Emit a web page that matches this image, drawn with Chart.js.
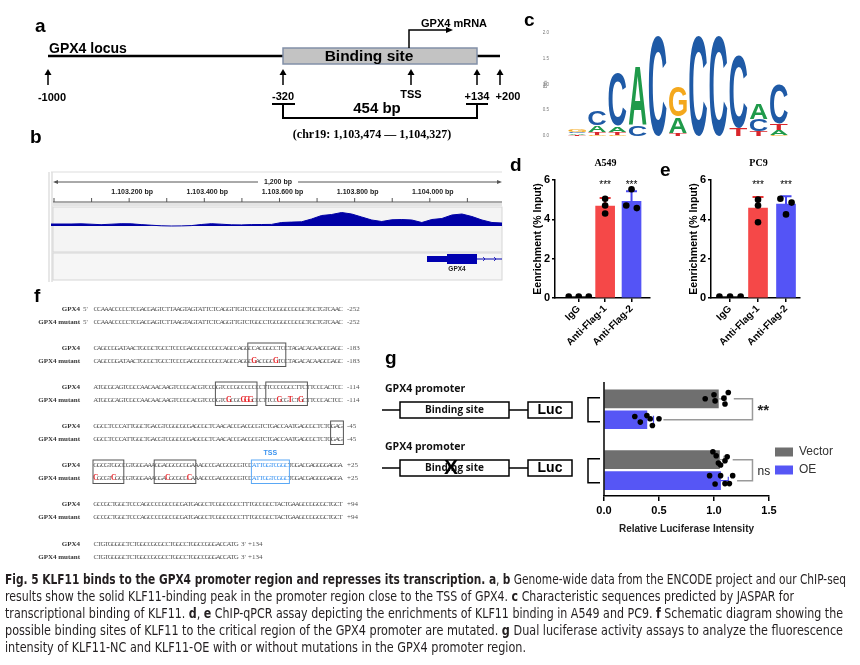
<!DOCTYPE html>
<html>
<head>
<meta charset="utf-8">
<title>Fig. 5 KLF11 binds to the GPX4 promoter</title>
<script src="https://cdn.jsdelivr.net/npm/chart.js@4.4.1/dist/chart.umd.min.js"></script>
<style>
  body { margin: 0; background: #fff; }
  #page { position: relative; width: 860px; height: 665px; overflow: hidden; background: #fff; }
  canvas { position: absolute; }
  #caption { position: absolute; left: 5px; top: 571px; font-family: "Liberation Sans Narrow", "DejaVu Sans Condensed", sans-serif; font-size: 14px; line-height: 17px; color: #231f20; }
  #caption div { white-space: nowrap; width: max-content; transform-origin: 0 0; }
</style>
</head>
<body>
<div id="page">
  <canvas id="bg" width="860" height="665" style="left:0;top:0"></canvas>
  <canvas id="logo" width="260" height="130" style="left:540px;top:20px"></canvas>
  <canvas id="cov" width="451" height="45" style="left:51px;top:207px"></canvas>
  <canvas id="chipA" width="135" height="200" style="left:525px;top:150px"></canvas>
  <canvas id="chipB" width="129" height="200" style="left:681px;top:150px"></canvas>
  <canvas id="luc" width="280" height="170" style="left:580px;top:370px"></canvas>
  <div id="caption">
    <div><b>Fig. 5 KLF11 binds to the GPX4 promoter region and represses its transcription. a</b>, <b>b</b> Genome-wide data from the ENCODE project and our ChIP-seq</div>
    <div>results show the solid KLF11-binding peak in the promoter region close to the TSS of GPX4. <b>c</b> Characteristic sequences predicted by JASPAR for</div>
    <div>transcriptional binding of KLF11. <b>d</b>, <b>e</b> ChIP-qPCR assay depicting the enrichments of KLF11 binding in A549 and PC9. <b>f</b> Schematic diagram showing the</div>
    <div>possible binding sites of KLF11 to the critical region of the GPX4 promoter are mutated. <b>g</b> Dual luciferase activity assays to analyze the fluorescence</div>
    <div>intensity of KLF11-NC and KLF11-OE with or without mutations in the GPX4 promoter region.</div>
  </div>
</div>
<script>
// ---- data ----
// c: JASPAR motif (bits per letter)
const motifPos = [1, 2, 3, 4, 5, 6, 7, 8, 9, 10, 11];
const bitsA = [0.03, 0.12, 0.11, 1.12, 0, 0.31, 0, 0, 0, 0.29, 0.10];
const bitsC = [0.03, 0.29, 1.02, 0.21, 1.94, 0, 1.94, 1.95, 1.40, 0.23, 0.75];
const bitsG = [0.04, 0.02, 0.02, 0, 0, 0.58, 0, 0, 0, 0, 0.02];
const bitsT = [0.02, 0.06, 0.06, 0, 0, 0.06, 0, 0, 0.15, 0.10, 0.12];

// b: ChIP-seq coverage track (bins across chr19:1,102,992-1,104,192)
const coverage = [2, 2, 2, 2.2, 1.8, 1.3, 1.8, 2.3, 2.2, 1.4, 0.8, 0.2, 0, 0.1, 0.4, 1.5,
  2.3, 1.8, 1.2, 1.1, 1.4, 1.5, 1.6, 3.5, 3.9, 4.2, 7, 10.5, 11.5, 13.5, 12, 9, 6, 4.5,
  6.2, 6.5, 6, 3.5, 6.5, 7.5, 11, 12, 9.5, 6, 3.5, 3];
const rulerLabels = ['1.103.200 bp', '1.103.400 bp', '1.103.600 bp', '1.103.800 bp', '1.104.000 bp'];

// d, e: ChIP-qPCR
const chipGroups = ['IgG', 'Anti-Flag-1', 'Anti-Flag-2'];
const chipSig = ['', '***', '***'];
const a549Mean = [0.07, 4.67, 4.92];
const a549Sd = [0.01, 0.41, 0.51];
const a549Points = [[0.07, 0.07, 0.07], [5.05, 4.7, 4.3], [5.53, 4.7, 4.57]];
const a549Jitter = [[-0.38, 0, 0.38], [0, 0, 0], [0, -0.2, 0.2]];
const pc9Mean = [0.07, 4.57, 4.77];
const pc9Sd = [0.01, 0.56, 0.4];
const pc9Points = [[0.07, 0.07, 0.07], [5.0, 4.7, 3.85], [5.05, 4.85, 4.25]];
const pc9Jitter = [[-0.38, 0, 0.38], [0, 0, 0], [-0.2, 0.2, 0]];

// g: dual luciferase (wild-type promoter, mutated promoter)
const lucSeries = ['Vector', 'OE'];
const lucVectorMean = [1.04, 1.05];
const lucVectorSd = [0.07, 0.04];
const lucOEMean = [0.39, 1.06];
const lucOESd = [0.06, 0.07];
const lucVectorPoints = [[0.92, 1.0, 1.01, 1.09, 1.10, 1.13], [0.99, 1.02, 1.04, 1.06, 1.10, 1.12]];
const lucOEPoints = [[0.28, 0.33, 0.39, 0.42, 0.44, 0.50], [0.96, 1.01, 1.06, 1.10, 1.14, 1.17]];
const lucVectorJitter = [[0, -0.19, 0.1, -0.03, 0.25, -0.3], [-0.38, -0.19, 0.16, 0.25, 0.05, -0.14]];
const lucOEJitter = [[-0.16, 0.11, -0.2, -0.05, 0.27, -0.05], [-0.24, 0.16, -0.24, 0.14, 0.14, -0.24]];
const lucSig = ['**', 'ns'];
const lucRowY = { Vector: [0.8, 3.7], OE: [1.8, 4.7] };

// f: promoter sequences
const seqRows = [
  { wt: 'CCAAACCCCCTCGACGAGTCTTAAGTAGTATTCTCAGGTTGTCTGGCCTGCGGCCGCGCTGCTGTCAAC',
    mut: 'CCAAACCCCCTCGACGAGTCTTAAGTAGTATTCTCAGGTTGTCTGGCCTGCGGCCGCGCTGCTGTCAAC',
    num: '-252', y: 309, red: [], blue: [], boxes: [], five: true },
  { wt: 'CAGCCGGATAACTGCGCTGCCTCCCGACGCGCCGCCAGCCAGGCCACGGCCTCCTAGACACAAGCGAGC',
    mut: 'CAGCCGGATAACTGCGCTGCCTCCCGACGCGCCGCCAGCCAGGCGACGGCGTCCTAGACACAAGCGAGC',
    num: '-183', y: 348, red: [44, 50], blue: [], boxes: [[43, 52]] },
  { wt: 'ATGCGCAGTCGCCAACAACAAGTCCGCACGTCCGGTCCCGCCCCCCCTTCCCCGCCTTCTTCCCACTCC',
    mut: 'ATGCGCAGTCGCCAACAACAAGTCCGCACGTCCGGTCGCGCGGGCCCTTCCGCGTCTGCTTCCCACTCC',
    num: '-114', y: 387, red: [37, 41, 42, 43, 51, 54, 57], blue: [], boxes: [[34, 44], [48, 58]] },
  { wt: 'GGCCTCCCATTGGCTGACGTCGGCGCGAGCGCTCAACACCGACGCGTCTGACCAATGAGCGCTCTGGAG',
    mut: 'GGCCTCCCATTGGCTGACGTCGGCGCGAGCGCTCAACACCGACGCGTCTGACCAATGAGCGCTCTGGAG',
    num: '-45', y: 426, red: [], blue: [], boxes: [[66, 68]] },
  { wt: 'GGCGTGGCCGTGGGAAAGGAGGCGCGGAAAGCCGACGCGCGTCCATTGGTCGGCTGGACGAGGGGAGGA',
    mut: 'CGCGTCGCCGTGGGAAAGGACGCGCGCAAAGCCGACGCGCGTCCATTGGTCGGCTGGACGAGGGGAGGA',
    num: '+25', y: 465, red: [0, 5, 20, 26], blue: [44, 45, 46, 47, 48, 49, 50, 51, 52, 53],
    boxes: [[0, 7], [17, 27]], tssBox: [44, 53] },
  { wt: 'GCCGCTGGCTCCCAGCCCCGCCGCGATGAGCCTCGGCCGCCTTTGCCGCCTACTGAAGCCGGCGCTGCT',
    mut: 'GCCGCTGGCTCCCAGCCCCGCCGCGATGAGCCTCGGCCGCCTTTGCCGCCTACTGAAGCCGGCGCTGCT',
    num: '+94', y: 504, red: [], blue: [], boxes: [] },
  { wt: 'CTGTGGGGCTCTGGCCGCGCCTGGCCTGGCCGGGACCATG',
    mut: 'CTGTGGGGCTCTGGCCGCGCCTGGCCTGGCCGGGACCATG',
    num: '+134', y: 544, red: [], blue: [], boxes: [], three: true }
];

const SANS = '"Liberation Sans", Arial, sans-serif';
const SERIF = '"Liberation Serif", "Times New Roman", serif';
Chart.defaults.font.family = SANS;
Chart.defaults.color = '#000';

// ---- background diagrams (a, b, f, g schematic, panel letters) ----
const bg = document.getElementById('bg').getContext('2d');

function text(s, x, y, font, align, color) {
  bg.font = font;
  bg.textAlign = align || 'left';
  bg.textBaseline = 'middle';
  bg.fillStyle = color || '#000';
  bg.fillText(s, x, y);
}
function path(pts, w, c) {
  bg.beginPath();
  bg.moveTo(pts[0][0], pts[0][1]);
  for (let i = 1; i < pts.length; i++) bg.lineTo(pts[i][0], pts[i][1]);
  bg.lineWidth = w || 2;
  bg.strokeStyle = c || '#000';
  bg.stroke();
}
function tri(p, c) {
  bg.beginPath();
  bg.moveTo(p[0], p[1]); bg.lineTo(p[2], p[3]); bg.lineTo(p[4], p[5]);
  bg.closePath();
  bg.fillStyle = c || '#000';
  bg.fill();
}
function letter(s, x, y) {
  bg.font = 'bold 19px ' + SANS;
  bg.textAlign = 'left';
  bg.textBaseline = 'alphabetic';
  bg.fillStyle = '#000';
  bg.fillText(s, x, y);
}

// panel letters
letter('a', 35, 32); letter('b', 30, 143); letter('c', 524, 26);
letter('d', 510, 171); letter('e', 660, 176); letter('f', 34, 302); letter('g', 385, 364);

// a: GPX4 locus
path([[48, 56], [283, 56]], 2.5);
path([[477, 56], [500, 56]], 2.5);
bg.fillStyle = '#c3c3c3';
bg.fillRect(283, 48, 194, 16);
bg.strokeStyle = '#8290a8'; bg.lineWidth = 1.5;
bg.strokeRect(283, 48, 194, 16);
text('GPX4 locus', 49, 49, 'bold 14px ' + SANS);
text('Binding site', 369, 57, 'bold 15.5px ' + SANS, 'center');
path([[409, 48], [409, 30], [447, 30]], 1.5);
tri([446, 27, 446, 33, 453, 30]);
text('GPX4 mRNA', 421, 24, 'bold 11px ' + SANS);
[48, 283, 411, 477, 500].forEach(x => {
  path([[x, 85], [x, 74]], 1.5);
  tri([x - 3.5, 75, x + 3.5, 75, x, 69]);
});
text('-1000', 52, 98, 'bold 11px ' + SANS, 'center');
text('-320', 283, 97, 'bold 11px ' + SANS, 'center');
text('TSS', 411, 95, 'bold 11px ' + SANS, 'center');
text('+134', 477, 97, 'bold 11px ' + SANS, 'center');
text('+200', 508, 97, 'bold 11px ' + SANS, 'center');
path([[272, 104], [295, 104]], 2);
path([[466, 104], [488, 104]], 2);
path([[283, 104], [283, 118], [477, 118], [477, 104]], 2);
text('454 bp', 377, 109, 'bold 15px ' + SANS, 'center');
text('(chr19: 1,103,474 \u2014 1,104,327)', 372, 135, 'bold 12px ' + SERIF, 'center');

// b: IGV-style browser frame and ruler
const rulerStart = 1102992, rulerPx = 0.3758;
const bpX = bp => 51 + (bp - rulerStart) * rulerPx;
path([[49, 172], [49, 282]], 1, '#cfcfcf');
path([[52, 172], [52, 282]], 1, '#cfcfcf');
path([[51, 172], [502, 172]], 1, '#dddddd');
path([[55, 182], [499, 182]], 1, '#555');
tri([53, 182, 58, 180, 58, 184], '#555');
tri([502, 182, 497, 180, 497, 184], '#555');
bg.fillStyle = '#fff'; bg.fillRect(258, 177, 40, 10);
text('1,200 bp', 278, 182, 'bold 7px ' + SANS, 'center', '#222');
rulerLabels.forEach((s, i) => text(s, bpX(1103200 + i * 200) + 3, 192, 'bold 7px ' + SANS, 'center', '#222'));
path([[53, 202], [502, 202]], 1, '#555');
for (let bp = 1103000; bp <= 1104100; bp += 100) path([[bpX(bp), 198], [bpX(bp), 202]], 1, '#555');
bg.fillStyle = '#e4e4e4'; bg.fillRect(53, 203, 449, 3);
bg.fillStyle = '#f4f4f4'; bg.fillRect(53, 207, 449, 45);
bg.strokeStyle = '#d6d6d6'; bg.lineWidth = 1; bg.strokeRect(53, 207, 449, 45);
bg.fillStyle = '#f6f6f6'; bg.fillRect(53, 253, 449, 27);
bg.strokeRect(53, 253, 449, 27);
// GPX4 gene model
path([[427, 259], [502, 259]], 1.2, '#0000b0');
bg.fillStyle = '#0000b0';
bg.fillRect(427, 256, 20, 6);
bg.fillRect(447, 254, 30, 10);
[485, 496].forEach(x => path([[x - 2, 257], [x, 259], [x - 2, 261]], 0.8, '#0000b0'));
text('GPX4', 457, 269, 'bold 6.5px ' + SANS, 'center', '#222');

// f: sequence alignment
const pitch = 3.6, seqX = 94;
function seqLine(label, seq, y, reds, blues) {
  text(label, 80, y, 'bold 7px ' + SERIF, 'right', '#333');
  bg.textAlign = 'center';
  bg.textBaseline = 'middle';
  for (let i = 0; i < seq.length; i++) {
    const red = reds.includes(i), blue = blues.includes(i);
    bg.font = (red ? 'bold 7.5px ' : '7px ') + SERIF;
    bg.fillStyle = red ? '#e8262b' : blue ? '#3a93f0' : '#555';
    bg.fillText(seq[i], seqX + i * pitch + pitch / 2, y);
  }
}
seqRows.forEach(r => {
  const yM = r.y + 13.5;
  seqLine('GPX4', r.wt, r.y, [], r.blue);
  seqLine('GPX4 mutant', r.mut, yM, r.red, r.blue);
  [r.y, yM].forEach(y => {
    if (r.five) text("5'", 83, y, '7px ' + SERIF, 'left', '#555');
    let nx = 347;
    if (r.three) {
      const ex = seqX + r.wt.length * pitch;
      text("3'", ex + 3, y, '7px ' + SERIF, 'left', '#555');
      nx = ex + 10;
    }
    text(r.num, nx, y, '7px ' + SERIF, 'left', '#555');
  });
  r.boxes.forEach(b => {
    bg.strokeStyle = '#555'; bg.lineWidth = 1;
    bg.strokeRect(seqX + b[0] * pitch - 1, r.y - 5, (b[1] - b[0] + 1) * pitch + 2, yM - r.y + 10);
  });
  if (r.tssBox) {
    const b = r.tssBox;
    bg.strokeStyle = '#5aa8f5'; bg.lineWidth = 1;
    bg.strokeRect(seqX + b[0] * pitch - 1, r.y - 5, (b[1] - b[0] + 1) * pitch + 2, yM - r.y + 10);
    text('TSS', seqX + (b[0] + b[1] + 1) / 2 * pitch, r.y - 12, 'bold 7px ' + SANS, 'center', '#3a93f0');
  }
});

// g: reporter constructs
function construct(y, mutated) {
  text('GPX4 promoter', 385, y - 21, 'bold 10.5px "Open Sans", ' + SANS, 'left', '#111');
  path([[382, y], [400, y]], 1.5);
  bg.fillStyle = '#fff';
  bg.fillRect(400, y - 8, 109, 16);
  bg.strokeStyle = '#000'; bg.lineWidth = 1.5;
  bg.strokeRect(400, y - 8, 109, 16);
  text('Binding site', 454.5, y, 'bold 10px "Open Sans", ' + SANS, 'center', '#111');
  path([[509, y], [528, y]], 1.5);
  bg.fillStyle = '#fff';
  bg.fillRect(528, y - 8, 44, 16);
  bg.strokeRect(528, y - 8, 44, 16);
  text('Luc', 550, y, 'bold 14px ' + SANS, 'center');
  if (mutated) text('X', 451, y, 'bold 21px ' + SANS, 'center');
}
construct(410, false);
construct(468, true);

// ---- c: motif logo ----
const logoColors = { A: '#1f9a4a', C: '#1f5aa6', G: '#f4a81d', T: '#d9262b' };
const logoBits = { A: bitsA, C: bitsC, G: bitsG, T: bitsT };
function glyph(ctx, l, x0, x1, yTop, yBot) {
  if (yBot - yTop < 0.3) return;
  ctx.save();
  ctx.font = 'bold 100px ' + SANS;
  ctx.textAlign = 'left';
  ctx.textBaseline = 'alphabetic';
  const m = ctx.measureText(l);
  const gw = m.actualBoundingBoxLeft + m.actualBoundingBoxRight;
  const gh = m.actualBoundingBoxAscent + m.actualBoundingBoxDescent;
  ctx.translate(x0, yTop);
  ctx.scale((x1 - x0) / gw, (yBot - yTop) / gh);
  ctx.fillStyle = logoColors[l];
  ctx.fillText(l, m.actualBoundingBoxLeft, m.actualBoundingBoxAscent);
  ctx.restore();
}
new Chart(document.getElementById('logo'), {
  type: 'scatter',
  data: { datasets: [{ data: motifPos.map((p, i) => ({ x: p, y: bitsA[i] + bitsC[i] + bitsG[i] + bitsT[i] })), pointRadius: 0 }] },
  options: {
    responsive: false, animation: false,
    layout: { padding: { left: 0, right: 11, top: 12, bottom: 0 } },
    plugins: { legend: { display: false }, tooltip: { enabled: false } },
    scales: {
      x: { type: 'linear', min: 0.5, max: 11.5,
        afterBuildTicks: s => { s.ticks = motifPos.map(p => ({ value: p })); },
        afterFit: s => { s.height = 14; },
        grid: { display: false }, border: { display: false },
        ticks: { font: { size: 4.5 }, color: '#777', padding: 6, autoSkip: false, maxRotation: 0 } },
      y: { min: 0, max: 2,
        afterFit: s => { s.width = 27; },
        grid: { display: false }, border: { display: false },
        ticks: { stepSize: 0.5, callback: v => v.toFixed(1), font: { size: 4.5 }, color: '#777', padding: 10 },
        title: { display: true, text: 'Bits', font: { size: 4.5 }, color: '#777', padding: { top: 3, bottom: 0 } } }
    }
  },
  plugins: [{
    id: 'logoLetters',
    afterDatasetsDraw(chart) {
      const { ctx, scales: { x, y } } = chart;
      motifPos.forEach((p, i) => {
        const stack = Object.keys(logoBits).map(l => [l, logoBits[l][i]]).filter(d => d[1] > 0).sort((a, b) => a[1] - b[1]);
        let base = 0;
        stack.forEach(([l, h]) => {
          glyph(ctx, l, x.getPixelForValue(p - 0.44), x.getPixelForValue(p + 0.44), y.getPixelForValue(base + h), y.getPixelForValue(base));
          base += h;
        });
      });
    }
  }]
});

// ---- b: coverage track ----
new Chart(document.getElementById('cov'), {
  type: 'line',
  data: {
    labels: coverage.map((v, i) => i),
    datasets: [{ data: coverage, fill: 'origin', backgroundColor: '#0000a6', borderColor: '#0000a6', borderWidth: 1, pointRadius: 0, tension: 0 }]
  },
  options: {
    responsive: false, animation: false,
    layout: { padding: 0 },
    plugins: { legend: { display: false }, tooltip: { enabled: false } },
    scales: { x: { display: false, offset: false }, y: { display: false, min: -26, max: 19 } }
  }
});

// ---- d, e: ChIP-qPCR ----
const chipBar = ['#111111', '#f54848', '#5454f6'];
const chipErr = ['#111111', '#e83535', '#4646ee'];
function chipChart(id, title, means, sds, points, jitter, xmin, xmax) {
  const pts = [];
  points.forEach((g, i) => g.forEach((v, k) => pts.push({ x: i + jitter[i][k], y: v })));
  return new Chart(document.getElementById(id), {
    type: 'bar',
    data: {
      datasets: [
        { type: 'bar', data: means.map((m, i) => ({ x: i, y: m })), backgroundColor: chipBar, borderWidth: 0, barThickness: 19, order: 1 },
        { type: 'scatter', data: pts, backgroundColor: '#000', borderWidth: 0, pointRadius: 3.3, order: 0 }
      ]
    },
    options: {
      responsive: false, animation: false,
      layout: { padding: { left: 7, right: 10, top: 30, bottom: 0 } },
      plugins: { legend: { display: false }, tooltip: { enabled: false } },
      scales: {
        x: { type: 'linear', min: xmin, max: xmax, offset: false,
          afterBuildTicks: s => { s.ticks = chipGroups.map((g, i) => ({ value: i })); },
          afterFit: s => { s.height = 52; },
          grid: { display: true, drawOnChartArea: false, offset: false, tickLength: 4, color: '#000', lineWidth: 1.5 },
          border: { color: '#000', width: 1.5 },
          ticks: { callback: v => chipGroups[v], minRotation: 45, maxRotation: 45, autoSkip: false, padding: 1, font: { size: 10, weight: 'bold' }, color: '#000' } },
        y: { min: 0, max: 6,
          afterFit: s => { s.width = 23; },
          grid: { display: true, drawOnChartArea: false, tickLength: 3, color: '#000', lineWidth: 1.5 },
          border: { color: '#000', width: 1.5 },
          ticks: { stepSize: 2, padding: 2, font: { size: 11, weight: 'bold' }, color: '#000' },
          title: { display: true, text: 'Eenrichment (% Input)', font: { size: 10.5, weight: 'bold' }, color: '#000', padding: 0 } }
      }
    },
    plugins: [{
      id: 'chipExtras',
      afterDatasetDraw(chart, args) {
        if (args.meta.type !== 'bar') return;
        const { ctx, scales: { x, y } } = chart;
        ctx.save();
        ctx.lineWidth = 2;
        means.forEach((m, i) => {
          if (i === 0) return;
          const cx = x.getPixelForValue(i), y0 = y.getPixelForValue(m), y1 = y.getPixelForValue(m + sds[i]);
          ctx.strokeStyle = chipErr[i];
          ctx.beginPath();
          ctx.moveTo(cx, y0); ctx.lineTo(cx, y1);
          ctx.moveTo(cx - 5.5, y1); ctx.lineTo(cx + 5.5, y1);
          ctx.stroke();
        });
        ctx.restore();
      },
      afterDraw(chart) {
        const { ctx, chartArea, scales: { x, y } } = chart;
        ctx.save();
        ctx.fillStyle = '#000';
        ctx.textAlign = 'center';
        ctx.textBaseline = 'middle';
        ctx.font = '10px ' + SANS;
        chipSig.forEach((s, i) => { if (s) ctx.fillText(s, x.getPixelForValue(i), y.getPixelForValue(5.72)); });
        ctx.font = 'bold 10px ' + SERIF;
        ctx.fillText(title, (chartArea.left + chartArea.right) / 2 + 3, chartArea.top - 17);
        ctx.restore();
      }
    }]
  });
}
chipChart('chipA', 'A549', a549Mean, a549Sd, a549Points, a549Jitter, -0.9, 2.7);
chipChart('chipB', 'PC9', pc9Mean, pc9Sd, pc9Points, pc9Jitter, -0.68, 2.5);

// ---- g: dual luciferase ----
const lucColors = { Vector: '#6f6f6f', OE: '#5656f5' };
const lucErr = { Vector: '#a0a0a0', OE: '#4a4af0' };
const lucMeans = { Vector: lucVectorMean, OE: lucOEMean };
const lucSds = { Vector: lucVectorSd, OE: lucOESd };
const lucPts = { Vector: lucVectorPoints, OE: lucOEPoints };
const lucJit = { Vector: lucVectorJitter, OE: lucOEJitter };
const lucDots = [];
lucSeries.forEach(s => lucPts[s].forEach((g, gi) => g.forEach((v, k) => lucDots.push({ x: v, y: lucRowY[s][gi] + lucJit[s][gi][k] }))));

new Chart(document.getElementById('luc'), {
  type: 'bar',
  data: {
    datasets: [
      ...lucSeries.map(s => ({
        type: 'bar', label: s, data: lucMeans[s].map((m, gi) => ({ x: m, y: lucRowY[s][gi] })),
        backgroundColor: lucColors[s], borderWidth: 0, barThickness: 18, grouped: false, order: 1
      })),
      { type: 'scatter', label: 'points', data: lucDots, backgroundColor: '#000', borderWidth: 0, pointRadius: 2.8, order: 0 }
    ]
  },
  options: {
    indexAxis: 'y',
    responsive: false, animation: false,
    layout: { padding: { left: 24, right: 17, top: 12, bottom: 0 } },
    plugins: {
      tooltip: { enabled: false },
      legend: { position: 'right', align: 'center',
        labels: { filter: item => item.datasetIndex < 2, boxWidth: 18, boxHeight: 9, padding: 6, color: '#333', font: { size: 12 } } }
    },
    scales: {
      x: { type: 'linear', min: 0, max: 1.5,
        afterFit: s => { s.height = 44; },
        grid: { display: true, drawOnChartArea: false, offset: false, tickLength: 5, color: '#000', lineWidth: 1.5 },
        border: { color: '#000', width: 1.5 },
        ticks: { stepSize: 0.5, callback: v => v.toFixed(1), padding: 3, font: { size: 11, weight: 'bold' }, color: '#000' },
        title: { display: true, text: 'Relative Luciferase Intensity', font: { size: 10, weight: 'bold' }, color: '#222', padding: { top: 0, bottom: 5 } } },
      // hidden index scale; its axis line is stroked by the plugin below
      y: { type: 'linear', display: false, min: 0, max: 5.43, reverse: true, offset: false, grid: { offset: false } }
    }
  },
  plugins: [{
    id: 'lucExtras',
    afterDatasetDraw(chart, args) {
      if (args.meta.type !== 'bar') return;
      const s = lucSeries[args.index];
      const { ctx, scales: { x, y } } = chart;
      ctx.save();
      ctx.lineWidth = 1.2;
      ctx.strokeStyle = lucErr[s];
      lucMeans[s].forEach((m, gi) => {
        const cy = y.getPixelForValue(lucRowY[s][gi]);
        const x0 = x.getPixelForValue(m), x1 = x.getPixelForValue(m + lucSds[s][gi]);
        ctx.beginPath();
        ctx.moveTo(x0, cy); ctx.lineTo(x1, cy);
        ctx.moveTo(x1, cy - 4); ctx.lineTo(x1, cy + 4);
        ctx.stroke();
      });
      ctx.restore();
    },
    afterDraw(chart) {
      const { ctx, chartArea, scales: { x, y } } = chart;
      ctx.save();
      // y axis line
      ctx.strokeStyle = '#000'; ctx.lineWidth = 1.5;
      ctx.beginPath();
      ctx.moveTo(chartArea.left, chartArea.top); ctx.lineTo(chartArea.left, chartArea.bottom);
      ctx.stroke();
      lucVectorMean.forEach((m, gi) => {
        const yV = y.getPixelForValue(lucRowY.Vector[gi]);
        const yO = y.getPixelForValue(lucRowY.OE[gi]);
        // group bracket tying constructs to bars
        ctx.strokeStyle = '#000'; ctx.lineWidth = 1.5;
        ctx.beginPath();
        ctx.moveTo(chartArea.left - 4, yV - 1); ctx.lineTo(chartArea.left - 16, yV - 1);
        ctx.lineTo(chartArea.left - 16, yO + 2); ctx.lineTo(chartArea.left - 4, yO + 2);
        ctx.stroke();
        // significance bracket
        const endV = Math.max(m + lucVectorSd[gi], ...lucVectorPoints[gi]) + 0.05;
        const endO = Math.max(lucOEMean[gi] + lucOESd[gi], ...lucOEPoints[gi]) + 0.04;
        const xr = x.getPixelForValue(1.35);
        ctx.strokeStyle = '#9a9a9a';
        ctx.beginPath();
        ctx.moveTo(x.getPixelForValue(endV), yV); ctx.lineTo(xr, yV);
        ctx.lineTo(xr, yO); ctx.lineTo(x.getPixelForValue(endO), yO);
        ctx.stroke();
        ctx.fillStyle = '#222';
        ctx.textAlign = 'left';
        ctx.textBaseline = 'middle';
        ctx.font = lucSig[gi] === 'ns' ? '12px ' + SANS : 'bold 15px ' + SANS;
        ctx.fillText(lucSig[gi], xr + 5, (yV + yO) / 2 + 2);
      });
      ctx.restore();
    }
  }]
});

// ---- caption: fit each printed line to its width in the figure ----
const capTargets = [841, 789, 838, 838, 521];
document.querySelectorAll('#caption div').forEach((d, i) => {
  const w = d.getBoundingClientRect().width;
  d.style.transform = 'scaleX(' + (capTargets[i] / w) + ')';
});
</script>
</body>
</html>
